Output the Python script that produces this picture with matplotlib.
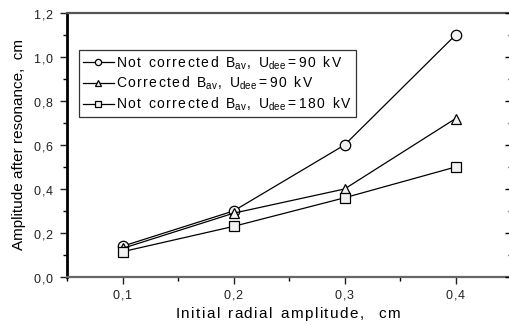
import matplotlib
matplotlib.use("Agg")
import matplotlib.pyplot as plt
from matplotlib.ticker import MultipleLocator, FuncFormatter

x = [0.1, 0.2, 0.3, 0.4]
not_corr_90 = [0.14, 0.30, 0.60, 1.10]
corr_90 = [0.13, 0.29, 0.40, 0.72]
not_corr_180 = [0.115, 0.23, 0.36, 0.50]
# label pieces: (text, subscript-or-None)
labels = [[("Not corrected B", "av"), (", U", "dee"), ("=90 kV", None)],
          [("Corrected B", "av"), (", U", "dee"), ("=90 kV", None)],
          [("Not corrected B", "av"), (", U", "dee"), ("=180 kV", None)]]
markers = ["o", "^", "s"]
xlabel = "Initial radial amplitude,  cm"
ylabel = "Amplitude after resonance,  cm"

plt.rcParams['font.family'] = ['Liberation Sans', 'DejaVu Sans']
plt.rcParams['mathtext.fontset'] = 'custom'
plt.rcParams['mathtext.rm'] = 'Liberation Sans'
plt.rcParams['mathtext.default'] = 'regular'


def tok(c):
    if c == ' ':
        return r'\ '
    if c in ',=.':
        return '{' + c + '}'
    return c


def spaced(pieces, sp):
    toks = []
    for text, sub in pieces:
        t = [tok(c) for c in text]
        if sub:
            t[-1] = '{' + t[-1] + '}_{' + sub + '}'
        toks.extend(t)
    out = ''
    for i, t in enumerate(toks):
        out += t
        if i < len(toks) - 1 and t != '{=}' and toks[i + 1] != '{=}':
            out += r'\hspace{%g}' % sp
    return '$' + out + '$'


fig = plt.figure(figsize=(5.09, 3.25), dpi=100)
ax = fig.add_axes([67/509, 48/325, 1.004 - 67/509, (277-13)/325])

for ys, m, lab in zip([not_corr_90, corr_90, not_corr_180], markers, labels):
    ax.plot(x, ys, color='black', lw=0.9, marker=m, markersize=7.5 if m != 's' else 6.5,
            markerfacecolor='#f2f2f2', markeredgecolor='black', markeredgewidth=0.9,
            label=spaced(lab, 0.11))

ax.set_xlim(0.05, 0.45)
ax.set_ylim(0.0, 1.2)
ax.xaxis.set_major_locator(MultipleLocator(0.1))
ax.xaxis.set_minor_locator(MultipleLocator(0.05))
ax.yaxis.set_major_locator(MultipleLocator(0.2))
ax.yaxis.set_minor_locator(MultipleLocator(0.1))
fmt = FuncFormatter(lambda v, p: spaced([(f"{v:.1f}".replace('.', ','), None)], 0.1))
ax.xaxis.set_major_formatter(fmt)
ax.yaxis.set_major_formatter(fmt)
ax.tick_params(axis='both', which='major', direction='out', length=5, width=1, labelsize=9, colors='#222222')
ax.tick_params(axis='both', which='minor', direction='out', length=3, width=1)
ax.tick_params(axis='x', pad=3)
ax.tick_params(axis='y', pad=4)

ax.spines['left'].set_linewidth(2.0)
ax.spines['left'].set_color('black')
ax.spines['bottom'].set_linewidth(1.6)
ax.spines['bottom'].set_color('#666666')
ax.spines['top'].set_linewidth(1.6)
ax.spines['top'].set_color('#555555')
ax.spines['right'].set_linewidth(1.6)
ax.spines['right'].set_color('#333333')

ax2 = ax.twinx()
ax2.set_ylim(0.0, 1.2)
ax2.yaxis.set_major_locator(MultipleLocator(0.2))
ax2.yaxis.set_minor_locator(MultipleLocator(0.1))
ax2.tick_params(axis='y', which='major', direction='in', length=4, width=1, labelright=False)
ax2.tick_params(axis='y', which='minor', direction='in', length=2.5, width=1)
for s in ax2.spines.values():
    s.set_visible(False)

ax.set_xlabel(spaced([(xlabel, None)], 0.1), fontsize=11)
ax.xaxis.set_label_coords((287 - 67) / 442, -(305 - 277) / 264)
ax.xaxis.label.set_va('top')
ax.set_ylabel(ylabel, fontsize=11, labelpad=5)

leg = ax.legend(loc='upper left', bbox_to_anchor=(12/442, (264-37)/264),
                fontsize=10, frameon=True, fancybox=False, borderpad=0.3,
                handlelength=2.2, handletextpad=0.15, labelspacing=0.25, borderaxespad=0,
                markerscale=0.6)
leg.get_frame().set_edgecolor('black')
leg.get_frame().set_linewidth(0.9)

fig.savefig("out.png", dpi=100)
